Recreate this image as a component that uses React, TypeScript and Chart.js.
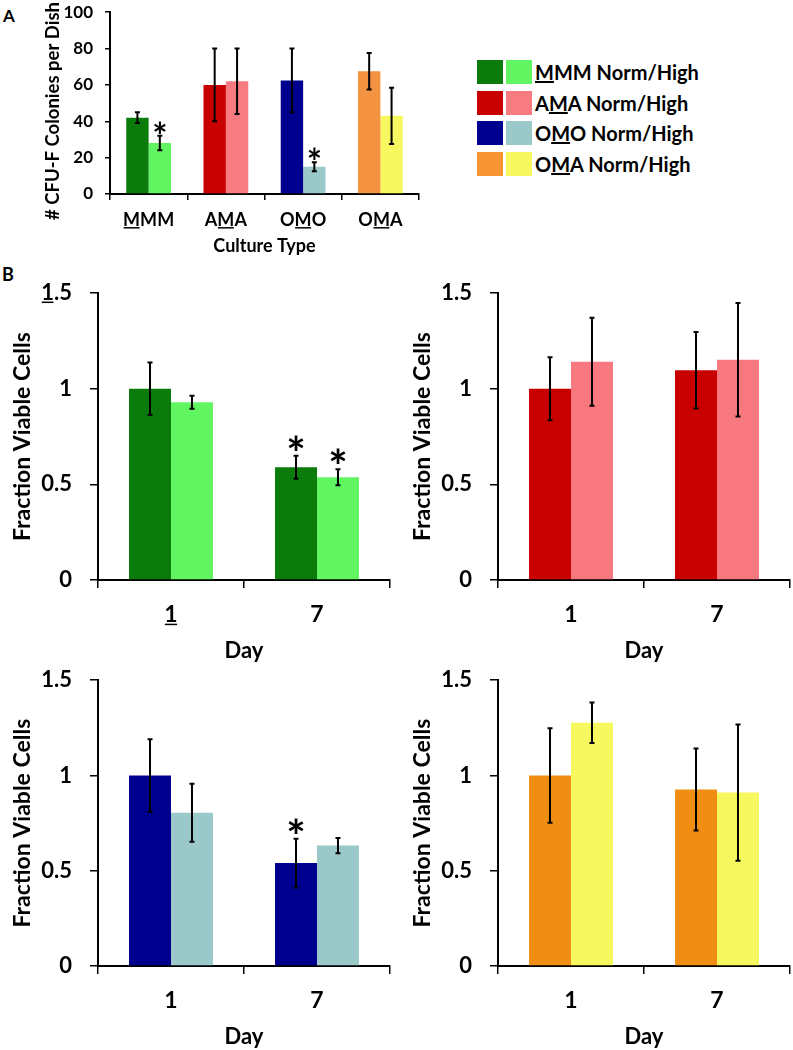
import React, { useEffect, useRef } from 'react';
import { Chart, registerables } from 'chart.js';

Chart.register(...registerables);

const FONT_FAMILY = 'Lato, "Open Sans", "DejaVu Sans", sans-serif';

// ---------------- Panel A data ----------------
const cultureTypes = ['MMM', 'AMA', 'OMO', 'OMA'];
const cultureUnderlineIndex = [0, 1, 1, 1];
const colonyTickStep = 20;
const colonyMax = 100;
const colonyNorm = [42, 60, 62.5, 67.5];
const colonyNormErr = [3, 20, 17.5, 10];
const colonyNormStar = [false, false, false, false];
const colonyHigh = [28, 62, 15, 43];
const colonyHighErr = [4, 18, 2.5, 15.5];
const colonyHighStar = [true, false, true, false];
const colonyNormColors = ['#0B7B0B', '#C80000', '#00008F', '#F39240'];
const colonyHighColors = ['#62F562', '#F77B80', '#9BC9C9', '#F7F75F'];

// ---------------- Panel B data ----------------
const days = ['1', '7'];
const viabilityTickStep = 0.5;
const viabilityMax = 1.5;

const mmmNorm = [1.0, 0.59];
const mmmNormErr = [0.137, 0.06];
const mmmNormStar = [false, true];
const mmmHigh = [0.93, 0.537];
const mmmHighErr = [0.034, 0.042];
const mmmHighStar = [false, true];

const amaNorm = [1.0, 1.097];
const amaNormErr = [0.165, 0.2];
const amaHigh = [1.141, 1.152];
const amaHighErr = [0.23, 0.297];

const omoNorm = [1.0, 0.54];
const omoNormErr = [0.19, 0.128];
const omoNormStar = [false, true];
const omoHigh = [0.804, 0.632];
const omoHighErr = [0.152, 0.04];

const omaNorm = [1.0, 0.926];
const omaNormErr = [0.248, 0.215];
const omaHigh = [1.277, 0.91];
const omaHighErr = [0.106, 0.358];

const noStars = [false, false];

// Legend
const legendNames = ['MMM', 'AMA', 'OMO', 'OMA'];
const legendUnderlineIndex = [0, 1, 1, 1];
const legendSuffix = ' Norm/High';
const legendNormColors = ['#0B7B0B', '#C80000', '#00008F', '#F79633'];
const legendHighColors = ['#62F562', '#F77B80', '#9BC9C9', '#F7F75F'];

// ---------------- Plugins ----------------
const errorBarPlugin = {
  id: 'errorBars',
  afterDatasetsDraw(chart: any, _args: any, opts: any) {
    const ctx = chart.ctx;
    const yScale = chart.scales.y;
    chart.data.datasets.forEach((ds: any, di: number) => {
      if (!ds.errors) return;
      const meta = chart.getDatasetMeta(di);
      meta.data.forEach((bar: any, i: number) => {
        const v = ds.data[i];
        const e = ds.errors[i];
        const x = bar.x;
        const yt = yScale.getPixelForValue(v + e);
        const yb = yScale.getPixelForValue(v - e);
        ctx.save();
        ctx.strokeStyle = '#000';
        ctx.lineWidth = opts.lineWidth;
        ctx.beginPath();
        ctx.moveTo(x, yt);
        ctx.lineTo(x, yb);
        ctx.moveTo(x - opts.cap, yt);
        ctx.lineTo(x + opts.cap, yt);
        ctx.moveTo(x - opts.cap, yb);
        ctx.lineTo(x + opts.cap, yb);
        ctx.stroke();
        if (ds.stars && ds.stars[i]) {
          ctx.font = `bold ${opts.starSize}px ${FONT_FAMILY}`;
          ctx.textAlign = 'center';
          ctx.textBaseline = 'alphabetic';
          ctx.fillStyle = '#000';
          const m = ctx.measureText('*');
          const baseline = yt - opts.starGap - m.actualBoundingBoxDescent;
          ctx.fillText('*', x, baseline);
        }
        ctx.restore();
      });
    });
  },
};

const tickUnderlinePlugin = {
  id: 'tickUnderline',
  afterDraw(chart: any, _args: any, opts: any) {
    const ctx = chart.ctx;
    ['x', 'y'].forEach((axis) => {
      const map = opts[axis];
      if (!map) return;
      const scale = chart.scales[axis];
      const o = scale.options;
      const size = o.ticks.font.size;
      ctx.save();
      ctx.font = `bold ${size}px ${FONT_FAMILY}`;
      ctx.textBaseline = 'middle';
      const d = ctx.measureText('M').actualBoundingBoxDescent;
      ctx.strokeStyle = '#000';
      ctx.lineWidth = 1.5;
      scale.ticks.forEach((t: any, i: number) => {
        const label = String(t.label);
        const idx = map[label];
        if (idx === undefined) return;
        const full = ctx.measureText(label).width;
        const pre = ctx.measureText(label.slice(0, idx)).width;
        const ch = ctx.measureText(label[idx]).width;
        let left: number;
        let cy: number;
        if (axis === 'x') {
          const px = scale.getPixelForTick(i);
          left = px - full / 2 + pre;
          cy = scale.top + o.grid.tickLength + o.ticks.padding + (size * 1.2) / 2;
        } else {
          const right = scale.right - o.grid.tickLength - o.ticks.padding;
          left = right - full + pre;
          cy = scale.getPixelForTick(i);
        }
        const uy = cy + d + 2;
        ctx.beginPath();
        ctx.moveTo(left + 0.5, uy);
        ctx.lineTo(left + ch - 0.5, uy);
        ctx.stroke();
      });
      ctx.restore();
    });
  },
};

// Rotated y-axis title placed at an explicit centre (used where the title
// sits lower than the middle of the axis).
const sideTitlePlugin = {
  id: 'sideTitle',
  afterDraw(chart: any, _args: any, opts: any) {
    if (!opts || !opts.text) return;
    const ctx = chart.ctx;
    ctx.save();
    ctx.translate(opts.cx, opts.cy);
    ctx.rotate(-Math.PI / 2);
    ctx.font = `bold ${opts.size}px ${FONT_FAMILY}`;
    ctx.fillStyle = '#000';
    ctx.textAlign = 'center';
    ctx.textBaseline = 'middle';
    ctx.fillText(opts.text, 0, 0);
    ctx.restore();
  },
};

// ---------------- Options builder ----------------
function barOptions(p: any) {
  const font = (size: number) => ({ family: FONT_FAMILY, size, weight: 'bold' as const });
  return {
    responsive: false,
    animation: false,
    devicePixelRatio: 1,
    layout: { padding: { left: 0, top: p.areaTop, right: p.w - p.areaRight, bottom: 0 } },
    plugins: {
      legend: { display: false },
      tooltip: { enabled: false },
      errorBars: { lineWidth: p.errWidth, cap: p.cap, starSize: p.starSize, starGap: p.starGap },
      tickUnderline: p.underline || {},
      sideTitle: p.sideTitle || {},
    },
    scales: {
      x: {
        type: 'category',
        offset: true,
        grid: {
          display: true,
          drawOnChartArea: false,
          offset: true,
          tickLength: p.xTl,
          color: '#000',
          lineWidth: 1.5,
        },
        border: { display: true, color: '#000', width: 2 },
        ticks: {
          font: font(p.xTickSize),
          color: '#000',
          padding: p.xTickPad,
          maxRotation: 0,
          autoSkip: false,
        },
        title: {
          display: true,
          text: p.xTitle,
          font: font(p.xTitleSize),
          color: '#000',
          padding: { top: 0, bottom: p.xTitlePad },
        },
        afterFit: (s: any) => {
          s.height = p.h - p.areaBottom;
        },
      },
      y: {
        min: 0,
        max: p.yMax,
        grid: {
          display: true,
          drawOnChartArea: false,
          tickLength: p.yTl,
          color: '#000',
          lineWidth: 1.5,
        },
        border: { display: true, color: '#000', width: 2 },
        ticks: {
          stepSize: p.yStep,
          font: font(p.yTickSize),
          color: '#000',
          padding: p.yTickPad,
          callback: (v: any) => String(Math.round(Number(v) * 100) / 100),
        },
        title: {
          display: !p.sideTitle,
          text: p.yTitle,
          font: font(p.yTitleSize),
          color: '#000',
          padding: { top: p.yTitlePad, bottom: 0 },
        },
        afterFit: (s: any) => {
          s.width = p.areaLeft;
        },
      },
    },
  };
}

function ChartBox({ x, y, w, h, config }: any) {
  const ref = useRef<HTMLCanvasElement>(null);
  useEffect(() => {
    const chart = new Chart(ref.current as HTMLCanvasElement, config);
    return () => chart.destroy();
  }, []);
  return (
    <canvas
      ref={ref}
      width={w}
      height={h}
      style={{ position: 'absolute', left: x, top: y, width: w, height: h }}
    />
  );
}

// ---------------- Panel A config ----------------
const A_W = 460;
const A_H = 275;
const A_TOP = -10;
const colonyTitle = '# CFU-F Colonies per Dish';
const panelAConfig: any = {
  type: 'bar',
  data: {
    labels: cultureTypes,
    datasets: [
      {
        label: 'Norm',
        data: colonyNorm,
        errors: colonyNormErr,
        stars: colonyNormStar,
        backgroundColor: colonyNormColors,
        borderWidth: 0,
        categoryPercentage: 0.58,
        barPercentage: 1.0,
      },
      {
        label: 'High',
        data: colonyHigh,
        errors: colonyHighErr,
        stars: colonyHighStar,
        backgroundColor: colonyHighColors,
        borderWidth: 0,
        categoryPercentage: 0.58,
        barPercentage: 1.0,
      },
    ],
  },
  options: barOptions({
    w: A_W,
    h: A_H,
    areaLeft: 110,
    areaTop: 16,
    areaRight: 419,
    areaBottom: 204,
    yMax: colonyMax,
    yStep: colonyTickStep,
    yTl: 5,
    yTickPad: 12,
    yTickSize: 17,
    yTitle: colonyTitle,
    yTitleSize: 18.5,
    yTitlePad: 41.6,
    sideTitle: { text: colonyTitle, cx: 53, cy: 111 - A_TOP, size: 18.5 },
    xTl: 6,
    xTickPad: 9.2,
    xTickSize: 18,
    xTitle: 'Culture Type',
    xTitleSize: 18,
    xTitlePad: 8.2,
    errWidth: 2,
    cap: 2.5,
    starSize: 36,
    starGap: 2,
    underline: {
      x: Object.fromEntries(cultureTypes.map((c, i) => [c, cultureUnderlineIndex[i]])),
    },
  }),
  plugins: [errorBarPlugin, tickUnderlinePlugin, sideTitlePlugin],
};

// ---------------- Panel B configs ----------------
function viabilityConfig(
  h: number,
  norm: number[],
  normErr: number[],
  normStar: boolean[],
  high: number[],
  highErr: number[],
  highStar: boolean[],
  normColor: string,
  highColor: string,
  areaBottom: number,
  underline?: any
) {
  return {
    type: 'bar',
    data: {
      labels: days,
      datasets: [
        {
          label: 'Norm',
          data: norm,
          errors: normErr,
          stars: normStar,
          backgroundColor: normColor,
          borderWidth: 0,
          categoryPercentage: 0.575,
          barPercentage: 1.0,
        },
        {
          label: 'High',
          data: high,
          errors: highErr,
          stars: highStar,
          backgroundColor: highColor,
          borderWidth: 0,
          categoryPercentage: 0.575,
          barPercentage: 1.0,
        },
      ],
    },
    options: barOptions({
      w: 400,
      h,
      areaLeft: 98,
      areaTop: 26,
      areaRight: 390,
      areaBottom,
      yMax: viabilityMax,
      yStep: viabilityTickStep,
      yTl: 8,
      yTickPad: 18,
      yTickSize: 22,
      yTitle: 'Fraction Viable Cells',
      yTitleSize: 23,
      yTitlePad: 9.2,
      xTl: 8,
      xTickPad: 13.2,
      xTickSize: 23,
      xTitle: 'Day',
      xTitleSize: 22,
      xTitlePad: 0.3,
      errWidth: 2,
      cap: 2.5,
      starSize: 46,
      starGap: 5,
      underline,
    }),
    plugins: [errorBarPlugin, tickUnderlinePlugin],
  };
}

const ROW1_TOP = 262;
const ROW1_H = 402;
const ROW2_TOP = 649;
const ROW2_H = 401;

const b1Config = viabilityConfig(
  ROW1_H, mmmNorm, mmmNormErr, mmmNormStar, mmmHigh, mmmHighErr, mmmHighStar,
  '#0B7B0B', '#62F562', 318, { x: { '1': 0 }, y: { '1.5': 0 } }
);
const b2Config = viabilityConfig(
  ROW1_H, amaNorm, amaNormErr, noStars, amaHigh, amaHighErr, noStars,
  '#C80000', '#F7797F', 318
);
const b3Config = viabilityConfig(
  ROW2_H, omoNorm, omoNormErr, omoNormStar, omoHigh, omoHighErr, noStars,
  '#00008F', '#9BC9C9', 317
);
const b4Config = viabilityConfig(
  ROW2_H, omaNorm, omaNormErr, noStars, omaHigh, omaHighErr, noStars,
  '#F08E14', '#F7F75F', 317
);

function Legend() {
  return (
    <>
      {legendNames.map((name, i) => {
        const top = 60 + i * 30.5;
        const u = legendUnderlineIndex[i];
        return (
          <React.Fragment key={name}>
            <div style={{ position: 'absolute', left: 477, top, width: 26, height: 24, background: legendNormColors[i] }} />
            <div style={{ position: 'absolute', left: 506, top, width: 26, height: 24, background: legendHighColors[i] }} />
            <div
              style={{
                position: 'absolute',
                left: 535,
                top,
                height: 24,
                lineHeight: '24px',
                fontSize: 20,
                fontWeight: 'bold',
                whiteSpace: 'nowrap',
                color: '#000',
              }}
            >
              {name.slice(0, u)}
              <u style={{ textDecorationThickness: '1.5px' }}>{name[u]}</u>
              {name.slice(u + 1)}
              {legendSuffix}
            </div>
          </React.Fragment>
        );
      })}
    </>
  );
}

export default function App() {
  return (
    <div
      style={{
        position: 'absolute',
        left: 0,
        top: 0,
        width: 793,
        height: 1050,
        overflow: 'hidden',
        background: '#fff',
        fontFamily: FONT_FAMILY,
      }}
    >
      <div style={{ position: 'absolute', left: 3, top: 7, fontSize: 17, lineHeight: '17px', fontWeight: 'bold' }}>A</div>
      <div style={{ position: 'absolute', left: 2, top: 265, fontSize: 18, lineHeight: '18px', fontWeight: 'bold' }}>B</div>
      <ChartBox x={0} y={A_TOP} w={A_W} h={A_H} config={panelAConfig} />
      <Legend />
      <ChartBox x={0} y={ROW1_TOP} w={400} h={ROW1_H} config={b1Config} />
      <ChartBox x={400} y={ROW1_TOP} w={400} h={ROW1_H} config={b2Config} />
      <ChartBox x={0} y={ROW2_TOP} w={400} h={ROW2_H} config={b3Config} />
      <ChartBox x={400} y={ROW2_TOP} w={400} h={ROW2_H} config={b4Config} />
    </div>
  );
}
